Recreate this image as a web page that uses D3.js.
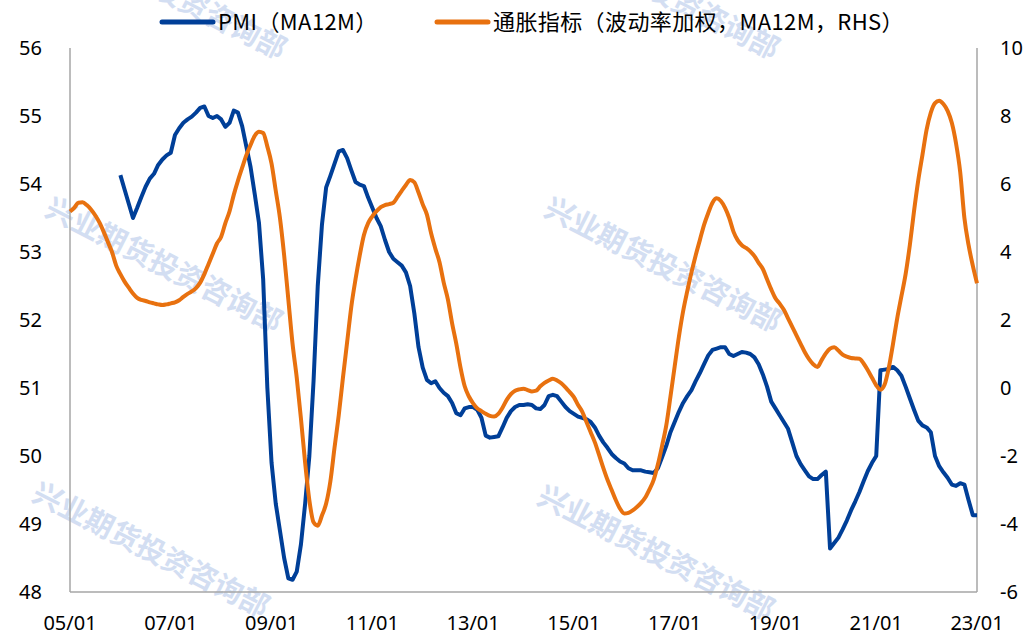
<!DOCTYPE html>
<html lang="zh">
<head>
  <meta charset="UTF-8">
  <title>PMI vs 通胀指标</title>
  <script src="https://cdn.jsdelivr.net/npm/d3@7"></script>
  <style>
    body { margin: 0; background: #fff; }
    text { font-family: "Noto Sans", "Noto Sans CJK SC", sans-serif; fill: #000; }
    .legend text { font-family: "Noto Sans CJK SC", "Noto Sans", sans-serif; letter-spacing: 0.4px; }
    .wm { font-family: "Noto Sans CJK SC", sans-serif; font-weight: bold; fill: #d3def2; }
  </style>
</head>
<body>
  <svg width="1023" height="636"></svg>
  <script>
    // 月度序列，起点 2005-01，共 217 个月（到 2023-01）

    // 通胀指标（波动率加权，MA12M），2005-01 起
    var inflation = [
      5.19, 5.3, 5.45, 5.46, 5.38, 5.25, 5.08, 4.87, 4.6, 4.3, 4.0, 3.6,
      3.35, 3.13, 2.95, 2.78, 2.65, 2.59, 2.56, 2.52, 2.49, 2.46, 2.44, 2.46,
      2.49, 2.52, 2.58, 2.68, 2.77, 2.84, 2.94, 3.1, 3.35, 3.65, 3.95, 4.25,
      4.45, 4.85, 5.2, 5.68, 6.1, 6.48, 6.85, 7.15, 7.42, 7.54, 7.5, 7.1,
      6.6, 5.8, 5.0, 3.9, 2.6, 1.3, 0.3, -0.9, -2.2, -3.3, -3.95, -4.05,
      -3.75, -3.4, -2.75, -1.75, -0.8, 0.3, 1.35, 2.4, 3.2, 3.9, 4.5, 4.85,
      5.05, 5.2, 5.32, 5.38, 5.41, 5.45, 5.62, 5.8, 5.97, 6.12, 6.05, 5.75,
      5.4, 5.1, 4.55, 4.1, 3.7, 3.1, 2.6, 1.9, 1.3, 0.6, 0.05, -0.25,
      -0.45, -0.6, -0.68, -0.76, -0.82, -0.84, -0.76, -0.58, -0.35, -0.18, -0.08, -0.04,
      -0.02, -0.06, -0.1, -0.08, 0.05, 0.15, 0.22, 0.27, 0.22, 0.14, 0.02, -0.12,
      -0.27, -0.5, -0.7, -1.0, -1.3, -1.6, -1.97, -2.35, -2.7, -3.0, -3.3, -3.55,
      -3.69, -3.67, -3.6, -3.5, -3.38, -3.22, -2.98, -2.7, -2.25, -1.7, -1.1, -0.25,
      0.63, 1.5, 2.25, 2.85, 3.4, 3.9, 4.35, 4.8, 5.15, 5.45, 5.58, 5.5,
      5.3, 5.0, 4.6, 4.35, 4.2, 4.12, 4.02, 3.88, 3.68, 3.5, 3.2, 2.9,
      2.64, 2.48, 2.3, 2.05, 1.8, 1.55, 1.3, 1.05, 0.85, 0.7, 0.62, 0.82,
      1.02, 1.16, 1.2, 1.1, 0.98, 0.92, 0.88, 0.87, 0.86, 0.72, 0.52, 0.3,
      0.08, -0.05, 0.1, 0.6, 1.3, 2.05, 2.7, 3.35, 4.2, 5.2, 6.1, 6.85,
      7.6, 8.1, 8.38, 8.45, 8.35, 8.15, 7.8, 7.2, 6.35, 5.0, 4.2, 3.6,
      3.08
    ]

    // PMI（MA12M），2006-01 起
    var pmiStart = 12
    var pmi = [
      54.13, 53.92, 53.71, 53.5, 53.65, 53.81, 53.96, 54.08, 54.15, 54.28, 54.36, 54.42,
      54.46, 54.72, 54.82, 54.9, 54.95, 54.99, 55.05, 55.12, 55.14, 55.0, 54.97, 55.0,
      54.95, 54.84, 54.9, 55.08, 55.05, 54.85, 54.55, 54.25, 53.85, 53.43, 52.6, 51.0,
      49.9, 49.3, 48.9, 48.5, 48.2, 48.18, 48.3, 48.7, 49.3, 50.0, 51.1, 52.5,
      53.4, 53.95, 54.12, 54.3, 54.48, 54.5, 54.38, 54.2, 54.03, 53.99, 53.97, 53.8,
      53.65, 53.5, 53.38, 53.18, 53.0, 52.9, 52.85, 52.8, 52.7, 52.5, 52.1, 51.6,
      51.3, 51.12, 51.07, 51.1, 51.0, 50.93, 50.88, 50.78, 50.63, 50.6, 50.7, 50.72,
      50.72, 50.68, 50.56, 50.3, 50.27, 50.28, 50.29, 50.42, 50.56, 50.66, 50.72, 50.75,
      50.75, 50.76, 50.75, 50.7, 50.69, 50.75, 50.88, 50.9, 50.88, 50.8, 50.72, 50.66,
      50.62, 50.58, 50.56, 50.54, 50.5, 50.42, 50.3, 50.2, 50.12, 50.03, 49.97, 49.92,
      49.89, 49.82, 49.79, 49.79, 49.79, 49.77, 49.76, 49.75, 49.82, 49.98, 50.15, 50.35,
      50.5, 50.65, 50.78, 50.88, 50.97, 51.1, 51.22, 51.35, 51.48, 51.56, 51.58, 51.6,
      51.6, 51.5, 51.47, 51.5, 51.53, 51.52, 51.5, 51.45, 51.35, 51.2, 51.02, 50.8,
      50.7, 50.6, 50.5, 50.4, 50.2, 50.0, 49.88, 49.79, 49.7, 49.66, 49.66, 49.72,
      49.77, 48.64, 48.72, 48.8, 48.92, 49.05, 49.2, 49.33, 49.47, 49.63, 49.78, 49.9,
      50.0, 51.26, 51.27, 51.28, 51.31, 51.26, 51.18, 51.02, 50.85, 50.68, 50.52, 50.45,
      50.42, 50.35, 50.0, 49.85, 49.76, 49.68, 49.58, 49.56, 49.6, 49.58, 49.35, 49.13,
      49.13
    ]

    var leftTicks = [48, 49, 50, 51, 52, 53, 54, 55, 56]
    var rightTicks = [-6, -4, -2, 0, 2, 4, 6, 8, 10]
    var xTickLabels = ["05/01", "07/01", "09/01", "11/01", "13/01", "15/01", "17/01", "19/01", "21/01", "23/01"]

    var seriesNames = ["PMI（MA12M）", "通胀指标（波动率加权，MA12M，RHS）"]
    var colors = ["#003f98", "#e8710f"]

    // 绘图区
    var plotL = 70, plotR = 977, plotT = 48, plotB = 592
    var svg = d3.select("svg")

    var x = d3.scaleLinear().domain([0, inflation.length - 1]).range([plotL, plotR])
    var yL = d3.scaleLinear().domain([48, 56]).range([plotB, plotT])
    var yR = d3.scaleLinear().domain([-6, 10]).range([plotB, plotT])

    // 水印（上排在顶边被裁切，与原图一致）
    var wmPos = [[167, -6], [660, -6], [163, 267], [662, 267], [150, 552], [655, 555]]
    svg.append("g").selectAll("text")
      .data(wmPos)
      .join("text")
      .attr("class", "wm")
      .attr("font-size", 29)
      .attr("text-anchor", "middle")
      .attr("dominant-baseline", "middle")
      .attr("transform", d => "translate(" + d[0] + "," + d[1] + ") rotate(27)")
      .text("兴业期货投资咨询部")

    // 坐标轴线
    var axisG = svg.append("g").attr("stroke", "#a6a6a6").attr("stroke-width", 1.5)
    axisG.append("line").attr("x1", plotL).attr("x2", plotL).attr("y1", plotT).attr("y2", plotB)
    axisG.append("line").attr("x1", plotR).attr("x2", plotR).attr("y1", plotT).attr("y2", plotB)
    axisG.append("line").attr("x1", plotL).attr("x2", plotR).attr("y1", plotB).attr("y2", plotB)

    // 左轴标签
    svg.append("g").selectAll("text")
      .data(leftTicks)
      .join("text")
      .attr("x", 42)
      .attr("y", d => yL(d))
      .attr("dy", "0.35em")
      .attr("text-anchor", "end")
      .attr("font-size", 20)
      .text(d => d)

    // 右轴标签
    svg.append("g").selectAll("text")
      .data(rightTicks)
      .join("text")
      .attr("x", 1000)
      .attr("y", d => yR(d))
      .attr("dy", "0.35em")
      .attr("text-anchor", "start")
      .attr("font-size", 20)
      .text(d => d)

    // X 轴标签，每 24 个月一个
    svg.append("g").selectAll("text")
      .data(xTickLabels)
      .join("text")
      .attr("x", (d, i) => x(i * 24))
      .attr("y", 630)
      .attr("text-anchor", "middle")
      .attr("font-size", 20)
      .text(d => d)

    // 折线
    var lineL = d3.line().x(d => x(d.i)).y(d => yL(d.v))
    var lineR = d3.line().x(d => x(d.i)).y(d => yR(d.v)).curve(d3.curveMonotoneX)

    svg.append("path")
      .datum(pmi.map((v, k) => ({ i: k + pmiStart, v: v })))
      .attr("fill", "none")
      .attr("stroke", colors[0])
      .attr("stroke-width", 4)
      .attr("stroke-linejoin", "round")
      .attr("d", lineL)

    svg.append("path")
      .datum(inflation.map((v, k) => ({ i: k, v: v })))
      .attr("fill", "none")
      .attr("stroke", colors[1])
      .attr("stroke-width", 4)
      .attr("stroke-linejoin", "round")
      .attr("d", lineR)

    // 图例
    var legendX = [160, 435]
    var lg = svg.append("g").attr("class", "legend")
    lg.selectAll("line")
      .data(seriesNames)
      .join("line")
      .attr("x1", (d, i) => legendX[i] + 2)
      .attr("x2", (d, i) => legendX[i] + 53)
      .attr("y1", 22)
      .attr("y2", 22)
      .attr("stroke", (d, i) => colors[i])
      .attr("stroke-width", 5)
      .attr("stroke-linecap", "round")
    lg.selectAll("text")
      .data(seriesNames)
      .join("text")
      .attr("x", (d, i) => legendX[i] + 58)
      .attr("y", 22)
      .attr("dy", "0.36em")
      .attr("font-size", 22)
      .text(d => d)
  </script>
</body>
</html>
